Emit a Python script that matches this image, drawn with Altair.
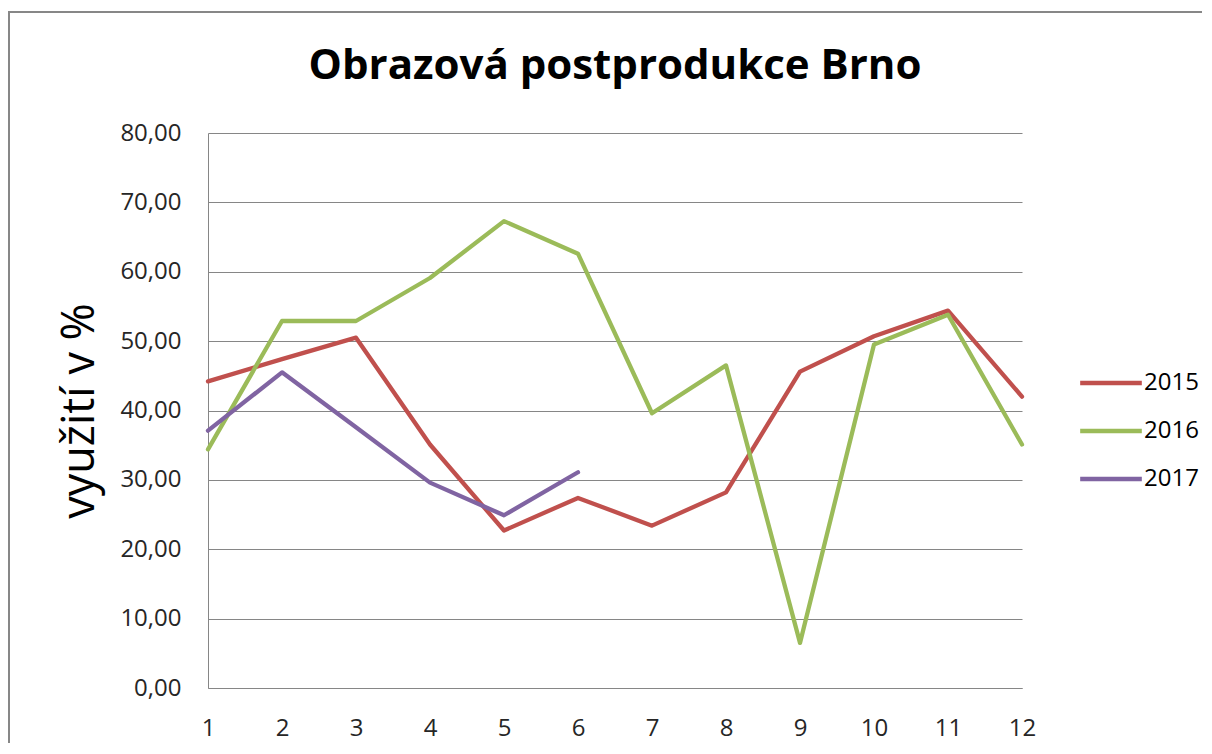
import altair as alt
import pandas as pd

months = list(range(1, 13))
years = ["2015", "2016", "2017"]
v2015 = [44.2, 47.4, 50.5, 35.1, 22.7, 27.4, 23.4, 28.2, 45.6, 50.7, 54.4, 42.0]
v2016 = [34.4, 52.9, 52.9, 59.1, 67.3, 62.6, 39.6, 46.5, 6.5, 49.5, 53.8, 35.1]
v2017 = [37.1, 45.5, 37.6, 29.6, 24.9, 31.1]
colors = ["#C0504D", "#9BBB59", "#8064A2"]
y_ticks = [0, 10, 20, 30, 40, 50, 60, 70, 80]

rows = []
for yr, vals in zip(years, [v2015, v2016, v2017]):
    for m, v in zip(months, vals):
        rows.append({"mesic": m, "rok": yr, "hodnota": v})
df = pd.DataFrame(rows)

FONT = "Open Sans"
W, H = 814, 555

lines = alt.Chart(df).mark_line(strokeWidth=4.3, strokeJoin="round", strokeCap="round").encode(
    x=alt.X("mesic:Q", scale=alt.Scale(domain=[1, 12], nice=False, zero=False),
            axis=alt.Axis(values=months, format="d", title=None, grid=False, ticks=False,
                          domain=True, domainColor="#868686", labelPadding=28, labelFlush=False,
                          labelFont=FONT, labelFontSize=24, labelColor="#262626")),
    y=alt.Y("hodnota:Q", scale=alt.Scale(domain=[0, 80], nice=False),
            axis=alt.Axis(values=y_ticks, labelExpr="replace(format(datum.value, '.2f'), '.', ',')",
                          title="využití v %", titleFont=FONT, titleFontSize=45, titleFontWeight="normal",
                          titleAngle=270, titleX=-115, titleY=H / 2, titleAlign="center",
                          titleBaseline="alphabetic", titleColor="#000000",
                          grid=True, gridColor="#868686", gridWidth=1, ticks=False,
                          domain=True, domainColor="#868686", labelPadding=27,
                          labelFont=FONT, labelFontSize=24, labelColor="#262626")),
    color=alt.Color("rok:N", scale=alt.Scale(domain=years, range=colors),
                    legend=alt.Legend(title=None, orient="none", legendX=870, legendY=217,
                                      symbolType="stroke", symbolSize=3800, symbolStrokeWidth=4.3,
                                      labelFont=FONT, labelFontSize=24, labelColor="#000000",
                                      rowPadding=3, labelOffset=0, padding=0)),
)

frame = alt.Chart(pd.DataFrame({"a": [0]})).mark_rect(fillOpacity=0, stroke="#878787", strokeWidth=2).encode(
    x=alt.value(-199), x2=alt.value(1100), y=alt.value(-121), y2=alt.value(800)
)

chart = alt.layer(frame, lines).properties(
    width=W, height=H,
    title=alt.TitleParams("Obrazová postprodukce Brno", font=FONT, fontSize=42, fontWeight="bold",
                          anchor="middle", frame="group", baseline="alphabetic", offset=0, dy=110,
                          color="#000000"),
    autosize=alt.AutoSizeParams(type="none"),
    padding={"left": 200, "top": 125, "right": 180, "bottom": 55},
).configure_view(stroke="transparent")

chart.save("out.html", embed_options={"renderer": "svg", "actions": False})
